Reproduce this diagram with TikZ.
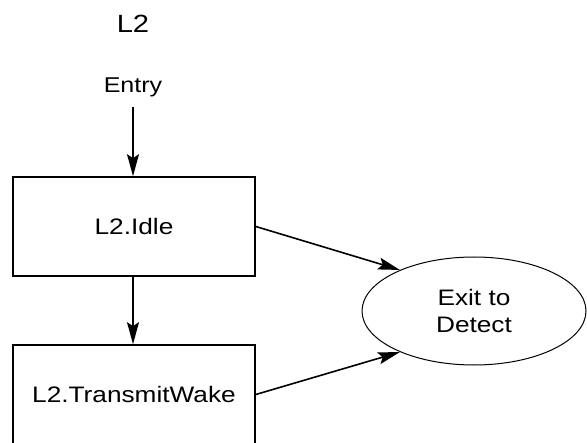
\documentclass[tikz,border=0pt]{standalone}
\usepackage{fontspec}
\setmainfont{Liberation Sans}[FakeStretch=1.17]
\usetikzlibrary{arrows.meta,positioning,shapes}
\begin{document}
\begin{tikzpicture}[x=1bp,y=-1bp,
    state/.style={draw, line width=1.6bp, minimum width=242bp, minimum height=99bp, font=\fontsize{22.5}{26}\selectfont},
    exitstate/.style={draw, ellipse, line width=1bp, minimum width=224bp, minimum height=108bp, align=center, font=\fontsize{22.5}{28}\selectfont},
    arr/.style={line width=1.6bp, -{Stealth[length=22bp,width=12bp,inset=4bp]}}]
        \useasboundingbox (0,0) rectangle (587,443);
        \node[font=\fontsize{25}{30}\selectfont] (title) at (133,24) {L2};
        \node[anchor=base, inner sep=0pt, font=\fontsize{21.5}{25}\selectfont] (entry) at (133,93) {Entry};
        \coordinate (entryout) at (133,107);
        \node[state] (idle) at (134,226.5) {L2.Idle};
        \node[state] (wake) at (134,394.5) {L2.TransmitWake};
        \node[exitstate] (exit) at (474,311) {Exit to\\Detect};
        \draw[arr] (entryout) -- (idle.north -| entryout);
        \draw[arr] (idle.south -| entryout) -- (wake.north -| entryout);
        \draw[arr] (idle.east) -- (exit.151);
        \draw[arr] (wake.east) -- (exit.209);
    \end{tikzpicture}
\end{document}
